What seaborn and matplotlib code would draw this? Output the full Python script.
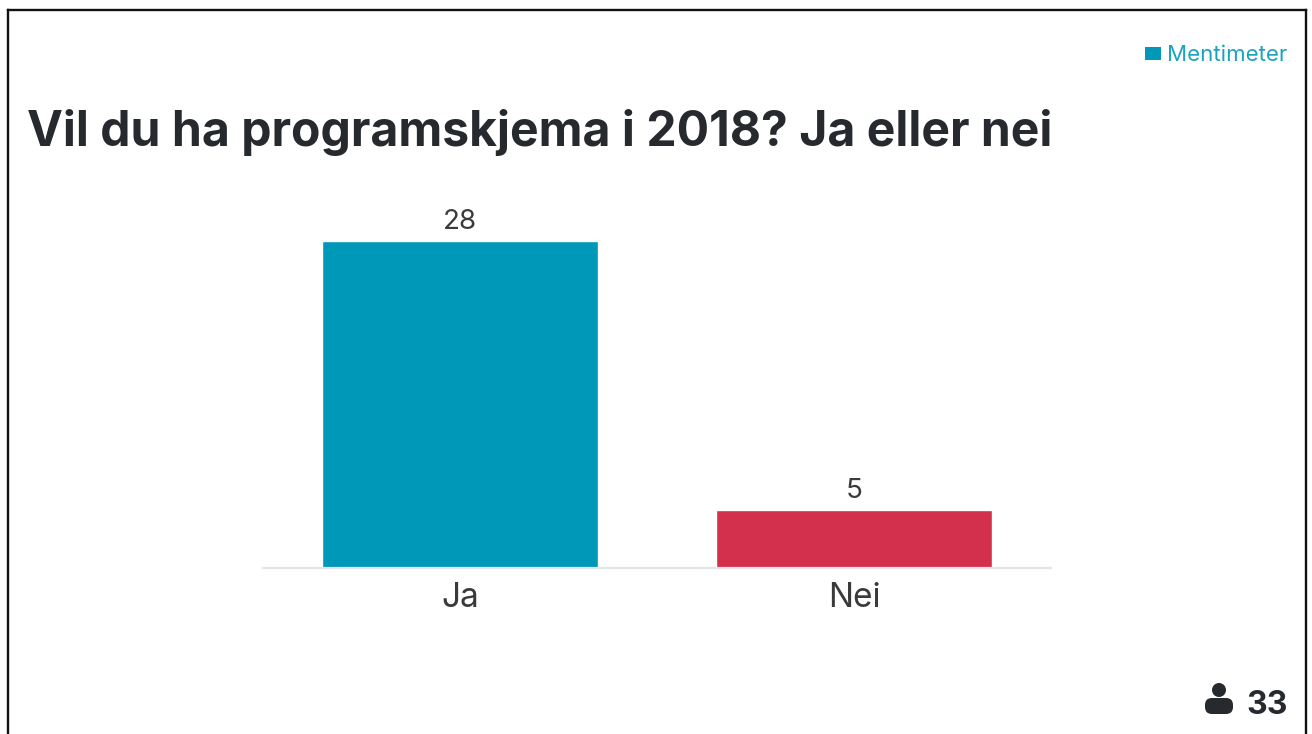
import matplotlib
matplotlib.use('Agg')
import matplotlib.pyplot as plt
from matplotlib.lines import Line2D
from matplotlib.patches import Circle, FancyBboxPatch, Rectangle
import pandas as pd
import seaborn as sns

categories = ['Ja', 'Nei']
votes = [28, 5]
bar_colors = ['#0098b8', '#d3304e']
title = 'Vil du ha programskjema i 2018? Ja eller nei'
total = '33'
brand = 'Mentimeter'

W, H = 1312, 734

sns.set_theme(style='white')
plt.rcParams['font.family'] = ['Inter', 'DejaVu Sans']

df = pd.DataFrame({'svar': categories, 'antall': votes})

fig = plt.figure(figsize=(W / 100, H / 100), dpi=100, facecolor='white')
# plot area in pixels: x 263-1051, baseline at y=568
ax = fig.add_axes([263 / W, 1 - 568 / H, (1051 - 263) / W, (568 - 241) / H])
sns.barplot(data=df, x='svar', y='antall', hue='svar', palette=bar_colors,
            legend=False, width=0.7, ax=ax, saturation=1)
ax.set_xlim(-0.5, 1.5)
ax.set_ylim(0, 28)
ax.set_xlabel('')
ax.set_ylabel('')
ax.set_yticks([])
ax.tick_params(axis='x', length=0, labelsize=24, labelcolor='#3a3a3a', pad=10)
for s in ['top', 'left', 'right']:
    ax.spines[s].set_visible(False)
ax.spines['bottom'].set_color('#e3e5e8')
ax.spines['bottom'].set_linewidth(1.6)
for c in ax.containers:
    ax.bar_label(c, labels=[str(int(v)) for v in c.datavalues], fontsize=20, color='#3a3a3a', padding=4)


def px_line(x0, y0, x1, y1):
    fig.add_artist(Line2D([x0 / W, x1 / W], [1 - y0 / H, 1 - y1 / H], color='#111111',
                          linewidth=1.7, solid_capstyle='projecting'))


# slide frame, open at the bottom
px_line(8, 10, 8, 734)
px_line(8, 10, 1306, 10)
px_line(1306, 10, 1306, 734)

fig.text(27 / W, 1 - 133 / H, title, fontsize=34.65, fontweight='bold', color='#262a2e',
         va='center', ha='left')

# logo
fig.add_artist(Rectangle((1145 / W, 1 - 60 / H), 16 / W, 13 / H, transform=fig.transFigure,
                         facecolor='#0098b8', edgecolor='none'))
fig.text(1167 / W, 1 - 55 / H, brand, fontsize=16, color='#1ba3bd', va='center', ha='left')

# participants
fig.add_artist(Circle((1219, H - 690), 7, transform=None, facecolor='#262a2e', edgecolor='none'))
fig.add_artist(FancyBboxPatch((1208, H - 711), 22, 10, transform=None,
                              boxstyle='round,pad=3,rounding_size=7',
                              facecolor='#262a2e', edgecolor='none'))
fig.text(1246 / W, 1 - 705 / H, total, fontsize=23, fontweight='bold', color='#262a2e',
         va='center', ha='left')

fig.savefig('out.png', dpi=100)
